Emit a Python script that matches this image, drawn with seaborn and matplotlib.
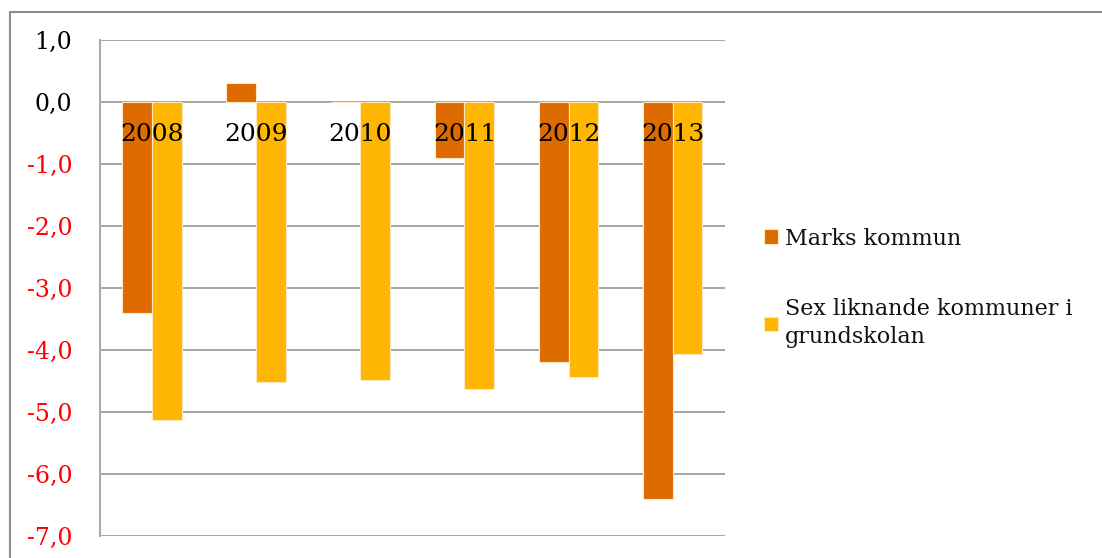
import pandas as pd
import matplotlib.pyplot as plt
import seaborn as sns
from matplotlib.patches import Rectangle

# Data
years = ['2008', '2009', '2010', '2011', '2012', '2013']
marks = [-3.4, 0.3, 0.0, -0.9, -4.2, -6.4]
liknande = [-5.13, -4.52, -4.48, -4.63, -4.43, -4.06]
series = ['Marks kommun', 'Sex liknande kommuner i\ngrundskolan']
colors = ['#DE6B00', '#FFB600']
yticks = [1, 0, -1, -2, -3, -4, -5, -6, -7]

df = pd.DataFrame({'År': years, series[0]: marks, series[1]: liknande})
df = df.melt(id_vars='År', var_name='Serie', value_name='Värde')

sns.set_theme(style='white')
plt.rcParams['font.family'] = ['DejaVu Serif', 'DejaVu Sans']

fig = plt.figure(figsize=(11.02, 5.58), dpi=100)
ax = fig.add_axes([0.0907, 0.0394, 0.567, 0.889])

sns.barplot(data=df, x='År', y='Värde', hue='Serie', palette=colors, saturation=1,
            width=0.57, edgecolor='#FFE9C0', linewidth=0.8, ax=ax, zorder=3)

ax.set_ylim(-7, 1)
ax.set_xlim(-0.5, 5.5)
ax.set_yticks(yticks)
ax.set_yticklabels([f'{v:.1f}'.replace('.', ',') for v in yticks], fontsize=17)
for lab, v in zip(ax.get_yticklabels(), yticks):
    lab.set_color('red' if v < 0 else 'black')
ax.tick_params(axis='y', length=0, pad=20)
ax.set_xticks([])
ax.set_xlabel('')
ax.set_ylabel('')
ax.yaxis.grid(True, color='#A6A6A6', linewidth=1.4)
ax.set_axisbelow(True)
for s in ['top', 'right', 'bottom']:
    ax.spines[s].set_visible(False)
ax.spines['left'].set_color('#A6A6A6')
ax.spines['left'].set_linewidth(1.4)

# year labels next to the zero line
for i, y in enumerate(years):
    ax.text(i, -0.53, y, ha='center', va='center', fontsize=18, color='black', zorder=5)

# legend
leg = ax.get_legend()
handles = leg.legend_handles
leg.remove()
leg = fig.legend(handles, series, loc='upper left', bbox_to_anchor=(0.675, 0.628),
                 frameon=False, fontsize=16, handlelength=0.64, handleheight=0.64,
                 handletextpad=0.3, labelspacing=2.2)
for t in leg.get_texts():
    t.set_linespacing(1.35)
    t.set_color('#111111')

# outer chart border
fig.patches.append(Rectangle((0.009, -0.05), 1.2, 1.028, transform=fig.transFigure,
                             fill=False, edgecolor='#8C8C8C', linewidth=1.5))

fig.savefig('out.png', dpi=100)
